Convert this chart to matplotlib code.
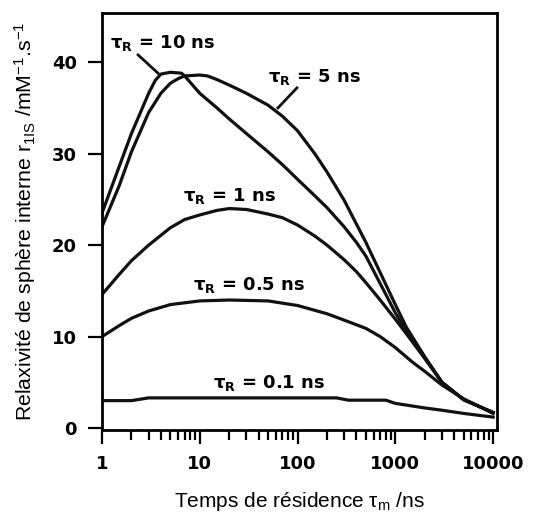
import numpy as np
import matplotlib.pyplot as plt

plt.rcParams["mathtext.fontset"] = "custom"
plt.rcParams["mathtext.rm"] = "Liberation Sans"
plt.rcParams["mathtext.it"] = "Liberation Sans:italic"
plt.rcParams["mathtext.bf"] = "DejaVu Sans:bold"

# tau_m (ns) and inner-sphere relaxivity r1IS for each tau_R curve
x_10 = [1, 1.5, 2, 3, 3.5, 4, 5, 6.5, 7, 10, 15, 20, 30, 50, 70, 100, 150, 200, 300, 400, 500, 700, 1000, 1300, 2000, 3000, 5000, 10000]
r_10 = [23.5, 28.6, 32.2, 36.6, 38.0, 38.7, 38.9, 38.8, 38.5, 36.6, 35.0, 33.8, 32.2, 30.2, 28.8, 27.2, 25.4, 24.1, 22.0, 20.3, 18.8, 15.8, 12.6, 10.6, 7.7, 5.0, 3.1, 1.7]

x_5 = [1, 1.5, 2, 3, 4, 5, 6, 7, 10, 12, 15, 20, 30, 50, 70, 100, 150, 200, 300, 400, 500, 700, 1000, 1300, 2000, 3000, 5000, 10000]
r_5 = [22.0, 26.5, 30.2, 34.5, 36.6, 37.7, 38.2, 38.5, 38.6, 38.5, 38.1, 37.5, 36.6, 35.3, 34.1, 32.5, 30.0, 28.0, 24.9, 22.3, 20.3, 17.0, 13.5, 11.0, 7.8, 5.0, 3.1, 1.7]

x_1 = [1, 1.5, 2, 3, 5, 7, 10, 15, 20, 30, 50, 70, 100, 150, 200, 300, 400, 500, 700, 1000, 1300, 2000, 3000, 5000, 10000]
r_1 = [14.6, 16.8, 18.3, 20.0, 21.9, 22.8, 23.3, 23.8, 24.0, 23.9, 23.4, 23.0, 22.2, 21.0, 20.0, 18.4, 17.1, 15.9, 14.0, 11.9, 10.3, 7.6, 5.0, 3.1, 1.7]

x_05 = [1, 1.5, 2, 3, 5, 10, 20, 50, 100, 200, 300, 500, 700, 1000, 1500, 2000, 3000, 5000, 10000]
r_05 = [10.0, 11.2, 12.0, 12.8, 13.5, 13.9, 14.0, 13.9, 13.4, 12.5, 11.8, 10.9, 10.0, 8.8, 7.2, 6.2, 4.7, 3.2, 1.6]

x_01 = [1, 2, 3, 10, 100, 250, 330, 800, 1000, 2000, 3000, 5000, 10000]
r_01 = [3.0, 3.0, 3.3, 3.3, 3.3, 3.3, 3.05, 3.05, 2.7, 2.2, 1.95, 1.6, 1.2]

curve_labels = ["10", "5", "1", "0.5", "0.1"]

fig = plt.figure(figsize=(5.34, 5.13), dpi=100)
ax = fig.add_axes([0.191, 0.162, 0.74, 0.813])

for xs, ys in [(x_10, r_10), (x_5, r_5), (x_1, r_1), (x_05, r_05), (x_01, r_01)]:
    ax.plot(xs, ys, color="#111111", lw=2.3, solid_joinstyle="round")

ax.set_xscale("log")
ax.set_xlim(1, 11000)
ax.set_ylim(-0.2, 45.4)
ax.set_xticks([1, 10, 100, 1000, 10000])
ax.set_xticklabels(["1", "10", "100", "1000", "10000"])
ax.set_yticks([0, 10, 20, 30, 40])

for s in ax.spines.values():
    s.set_linewidth(2)
ax.tick_params(axis="both", which="major", width=1.6, length=10, labelsize=13, pad=8)
ax.tick_params(axis="x", which="minor", width=1.6, length=7)
for lab in ax.get_xticklabels() + ax.get_yticklabels():
    lab.set_fontweight("bold")

# curve labels (positions in data coords) and leader lines
lab_pos = [(1.2, 42.1), (50, 38.4), (6.7, 25.4), (8.5, 15.6), (13.7, 4.9)]
for name, (lx, ly) in zip(curve_labels, lab_pos):
    ax.text(lx, ly, "τ$_\\mathbf{R}$ = " + name + " ns", fontsize=13, fontweight="bold",
            va="center", ha="left")
ax.plot([2.34, 3.74], [40.8, 38.8], color="#111111", lw=2)
ax.plot([98.6, 63], [37.2, 35.0], color="#111111", lw=2)

ax.set_xlabel("Temps de résidence τ$_\\mathrm{m}$ /ns", fontsize=15, family="Liberation Sans", labelpad=12)
ax.set_ylabel("Relaxivité de sphère interne r$_\\mathrm{1IS}$ /mM$^\\mathrm{-1}$.s$^\\mathrm{-1}$", fontsize=15.3,
              family="Liberation Sans", labelpad=10)

fig.savefig("out.png", dpi=100)
